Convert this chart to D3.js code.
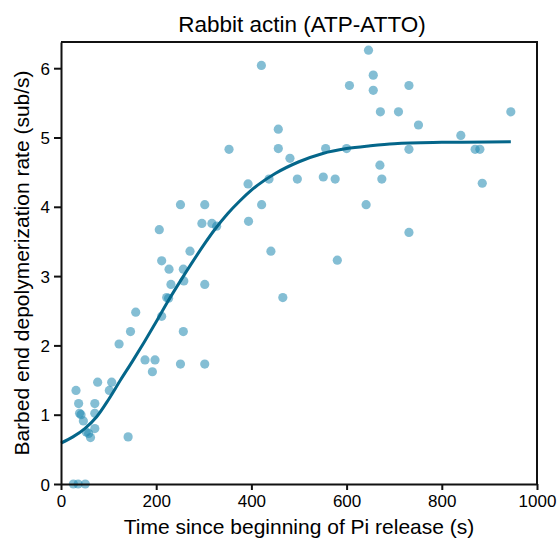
<!DOCTYPE html>
<html>
<head>
<meta charset="utf-8">
<script src="https://cdn.jsdelivr.net/npm/d3@7"></script>
<style>
  html, body { margin: 0; padding: 0; background: #fff; }
  svg { display: block; font-family: "Liberation Sans", Arial, sans-serif; }
</style>
</head>
<body>
<svg id="chart" width="559" height="547"></svg>
<script>
// ---- data ----
const timeS = [26, 36, 51, 31.5, 77, 106.5, 101.5, 37, 71, 39, 42, 71, 47, 53, 58, 71, 62, 141,
  122, 146, 157, 176.5, 197.5, 192, 206.5, 211.5, 211.5, 222, 226, 227, 231, 251, 251, 257, 257, 258,
  271, 296, 302, 302, 302, 317, 327, 353, 393, 394, 421, 421.5, 437, 441, 456.5, 456.5, 466, 481,
  496.5, 551, 556, 576, 580.5, 600, 606, 641, 646, 656, 656, 670, 671, 674, 709, 731, 731, 731,
  751, 840, 870, 880, 885, 945];
const rate = [0, 0, 0, 1.35, 1.47, 1.47, 1.35, 1.16, 1.16, 1.02, 1.00, 1.02, 0.91, 0.75, 0.73, 0.80, 0.67, 0.68,
  2.02, 2.20, 2.48, 1.79, 1.79, 1.62, 3.67, 3.22, 2.42, 2.69, 2.68, 3.10, 2.88, 4.03, 1.73, 3.10, 2.20, 2.93,
  3.36, 3.76, 4.03, 2.88, 1.73, 3.76, 3.72, 4.83, 4.33, 3.79, 6.04, 4.03, 4.40, 3.36, 5.12, 4.84, 2.69, 4.70,
  4.40, 4.43, 4.84, 4.40, 3.23, 4.84, 5.75, 4.03, 6.26, 5.90, 5.68, 4.60, 5.37, 4.40, 5.37, 5.75, 4.83, 3.63,
  5.18, 5.03, 4.83, 4.83, 4.34, 5.37];

const fitT = [0, 25, 50, 75, 100, 125, 150, 175, 200, 225, 250, 275, 300, 325, 350, 375, 400,
  450, 500, 550, 600, 650, 700, 800, 945];
const fitV = [0.59, 0.68, 0.80, 0.97, 1.22, 1.50, 1.77, 2.05, 2.34, 2.64, 2.92, 3.19, 3.45, 3.69, 3.90, 4.08, 4.24,
  4.48, 4.65, 4.77, 4.84, 4.88, 4.91, 4.93, 4.94];

const xTicks = [0, 200, 400, 600, 800, 1000];
const yTicks = [0, 1, 2, 3, 4, 5, 6];

const titleText = "Rabbit actin (ATP-ATTO)";
const xLabel = "Time since beginning of Pi release (s)";
const yLabel = "Barbed end depolymerization rate (sub/s)";

// ---- layout ----
const svg = d3.select("#chart");
const L = 61, T = 42, R = 537, B = 484;

const x = d3.scaleLinear().domain([0, 1000]).range([L, R]);
const y = d3.scaleLinear().domain([0, 6.378]).range([B, T]);

// points
const pts = timeS.map((t, i) => ({ t, v: rate[i] }));
svg.append("g")
  .selectAll("circle")
  .data(pts)
  .join("circle")
  .attr("cx", d => x(d.t))
  .attr("cy", d => y(d.v))
  .attr("r", 4.6)
  .attr("fill", "#1f88b0")
  .attr("fill-opacity", 0.55);

// fit curve
const fit = fitT.map((t, i) => ({ t, v: fitV[i] }));
svg.append("path")
  .datum(fit)
  .attr("fill", "none")
  .attr("stroke", "#04668a")
  .attr("stroke-width", 3)
  .attr("d", d3.line().x(d => x(d.t)).y(d => y(d.v)).curve(d3.curveMonotoneX));

// frame (top & right)
svg.append("path")
  .attr("d", `M${L},${T}H${R}V${B}`)
  .attr("fill", "none")
  .attr("stroke", "#111")
  .attr("stroke-width", 2);

// axes
const xAxis = svg.append("g")
  .attr("transform", `translate(0,${B})`)
  .call(d3.axisBottom(x).tickValues(xTicks).tickFormat(d3.format("d")).tickSize(6).tickSizeOuter(0).tickPadding(5));
const yAxis = svg.append("g")
  .attr("transform", `translate(${L},0)`)
  .call(d3.axisLeft(y).tickValues(yTicks).tickFormat(d3.format("d")).tickSize(7).tickSizeOuter(0).tickPadding(4));

[xAxis, yAxis].forEach(g => {
  g.select(".domain").attr("stroke", "#111").attr("stroke-width", 2);
  g.selectAll(".tick line").attr("stroke", "#111").attr("stroke-width", 2);
  g.selectAll(".tick text").attr("fill", "#000").style("font-size", "17px")
    .style("font-family", '"Liberation Sans", Arial, sans-serif');
});
yAxis.selectAll(".tick text").attr("dy", "0.36em");

// labels
svg.append("text")
  .attr("x", (L + R) / 2 + 3).attr("y", 31.5)
  .attr("text-anchor", "middle")
  .style("font-size", "22.5px")
  .attr("fill", "#000")
  .text(titleText);

svg.append("text")
  .attr("x", (L + R) / 2).attr("y", 534)
  .attr("text-anchor", "middle")
  .style("font-size", "21px")
  .attr("fill", "#000")
  .text(xLabel);

svg.append("text")
  .attr("transform", `translate(28.5,${(T + B) / 2}) rotate(-90)`)
  .attr("text-anchor", "middle")
  .style("font-size", "21px")
  .attr("fill", "#000")
  .text(yLabel);
</script>
</body>
</html>
